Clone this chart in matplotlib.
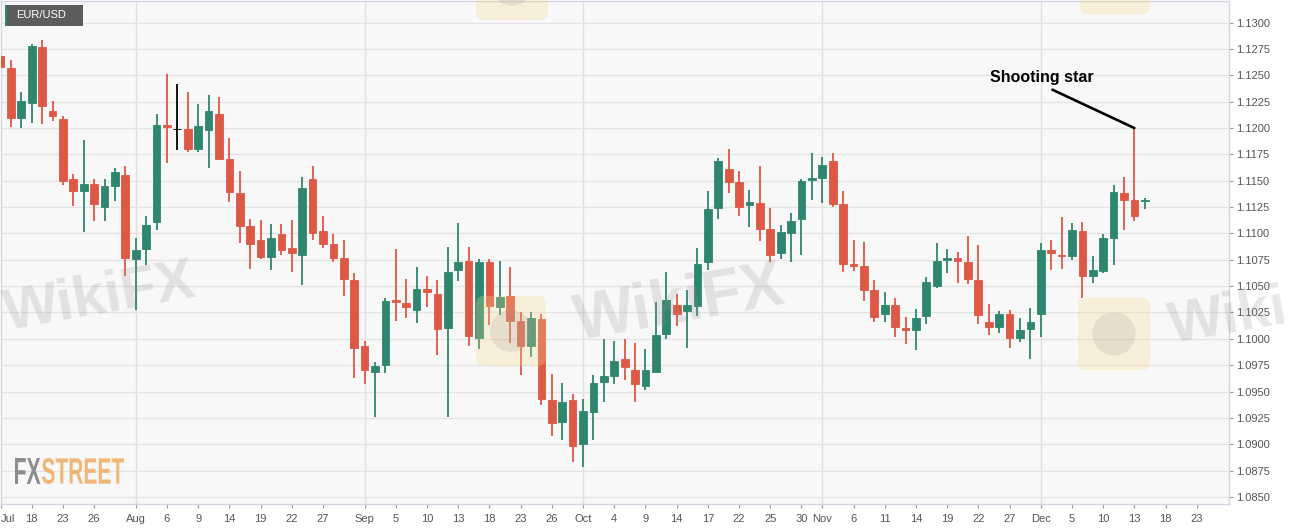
import matplotlib
matplotlib.use("Agg")
import matplotlib.pyplot as plt
import numpy as np
import pandas as pd
from matplotlib.patches import Rectangle, FancyBboxPatch, PathPatch, Circle
from matplotlib.textpath import TextPath
from matplotlib.font_manager import FontProperties
from matplotlib.transforms import Affine2D

# ---------------- data (EUR/USD daily, 2019) ----------------
start_date = "2019-07-15"
end_date = "2019-12-16"

opens = [1.1268, 1.1257, 1.1210, 1.1224, 1.1277, 1.1216, 1.1209, 1.1152, 1.1140, 1.1147,
         1.1125, 1.1145, 1.1155, 1.1076, 1.1085, 1.1111, 1.1203, 1.1199, 1.1199, 1.1180,
         1.1198, 1.1213, 1.1171, 1.1138, 1.1107, 1.1094, 1.1078, 1.1099, 1.1086, 1.1080,
         1.1152, 1.1102, 1.1090, 1.1077, 1.1056, 1.0993, 1.0969, 1.0975, 1.1037, 1.1034,
         1.1027, 1.1047, 1.1043, 1.1010, 1.1065, 1.1074, 1.1001, 1.1073, 1.1030, 1.1041,
         1.1017, 1.0993, 1.1019, 1.0942, 1.0921, 1.0942, 1.0900, 1.0931, 1.0959, 1.0965,
         1.0981, 1.0970, 1.0955, 1.0969, 1.1005, 1.1032, 1.1026, 1.1031, 1.1073, 1.1124,
         1.1161, 1.1149, 1.1127, 1.1129, 1.1104, 1.1081, 1.1100, 1.1114, 1.1151, 1.1153,
         1.1169, 1.1128, 1.1071, 1.1069, 1.1046, 1.1024, 1.1032, 1.1010, 1.1008, 1.1022,
         1.1050, 1.1075, 1.1077, 1.1073, 1.1056, 1.1016, 1.1011, 1.1024, 1.1001, 1.1009,
         1.1024, 1.1084, 1.1080, 1.1079, 1.1102, 1.1060, 1.1064, 1.1096, 1.1138, 1.1132,
         1.1131]
highs = [1.1284, 1.1265, 1.1234, 1.1280, 1.1284, 1.1226, 1.1211, 1.1156, 1.1189, 1.1152,
         1.1152, 1.1162, 1.1164, 1.1096, 1.1117, 1.1213, 1.1251, 1.1242, 1.1234, 1.1223,
         1.1231, 1.1229, 1.1191, 1.1159, 1.1114, 1.1113, 1.1109, 1.1109, 1.1113, 1.1154,
         1.1164, 1.1117, 1.1099, 1.1094, 1.1062, 1.0998, 1.0978, 1.1039, 1.1085, 1.1057,
         1.1068, 1.1060, 1.1056, 1.1087, 1.1110, 1.1087, 1.1076, 1.1076, 1.1074, 1.1068,
         1.1025, 1.1025, 1.1024, 1.0967, 1.0958, 1.0948, 1.0943, 1.0966, 1.1000, 1.0998,
         1.1000, 1.0996, 1.0990, 1.1035, 1.1063, 1.1043, 1.1046, 1.1086, 1.1140, 1.1172,
         1.1180, 1.1159, 1.1141, 1.1164, 1.1124, 1.1108, 1.1119, 1.1152, 1.1176, 1.1173,
         1.1176, 1.1140, 1.1094, 1.1092, 1.1056, 1.1044, 1.1039, 1.1021, 1.1028, 1.1059,
         1.1091, 1.1085, 1.1082, 1.1098, 1.1089, 1.1033, 1.1026, 1.1027, 1.1020, 1.1029,
         1.1091, 1.1094, 1.1116, 1.1110, 1.1111, 1.1079, 1.1099, 1.1146, 1.1154, 1.1200,
         1.1134]
lows = [1.1255, 1.1201, 1.1200, 1.1205, 1.1204, 1.1207, 1.1146, 1.1126, 1.1101, 1.1112,
        1.1112, 1.1131, 1.1060, 1.1027, 1.1070, 1.1103, 1.1167, 1.1179, 1.1177, 1.1177,
        1.1162, 1.1170, 1.1130, 1.1091, 1.1066, 1.1076, 1.1065, 1.1080, 1.1063, 1.1051,
        1.1094, 1.1086, 1.1073, 1.1041, 1.0963, 1.0957, 1.0926, 1.0968, 1.1017, 1.1020,
        1.1015, 1.1030, 1.0985, 1.0926, 1.1055, 1.0993, 1.0990, 1.1013, 1.1023, 1.0996,
        1.0966, 1.0983, 1.0937, 1.0908, 1.0904, 1.0883, 1.0878, 1.0904, 1.0940, 1.0957,
        1.0961, 1.0940, 1.0951, 1.0969, 1.1000, 1.1012, 1.0991, 1.1022, 1.1065, 1.1114,
        1.1138, 1.1117, 1.1106, 1.1093, 1.1073, 1.1076, 1.1073, 1.1080, 1.1132, 1.1129,
        1.1125, 1.1063, 1.1064, 1.1036, 1.1016, 1.1016, 1.1002, 1.0995, 1.0989, 1.1014,
        1.1048, 1.1062, 1.1053, 1.1052, 1.1014, 1.1004, 1.1006, 1.0991, 1.0997, 1.0981,
        1.1002, 1.1065, 1.1066, 1.1075, 1.1039, 1.1053, 1.1062, 1.1070, 1.1103, 1.1112,
        1.1123]
closes = [1.1258, 1.1210, 1.1226, 1.1278, 1.1221, 1.1211, 1.1150, 1.1140, 1.1147, 1.1128,
          1.1145, 1.1158, 1.1077, 1.1084, 1.1108, 1.1203, 1.1201, 1.1199, 1.1180, 1.1202,
          1.1216, 1.1171, 1.1139, 1.1107, 1.1090, 1.1078, 1.1096, 1.1084, 1.1081, 1.1143,
          1.1100, 1.1090, 1.1077, 1.1057, 1.0991, 1.0970, 1.0974, 1.1036, 1.1035, 1.1030,
          1.1047, 1.1044, 1.1009, 1.1063, 1.1073, 1.1003, 1.1073, 1.1031, 1.1040, 1.1017,
          1.0993, 1.1020, 1.0943, 1.0920, 1.0940, 1.0898, 1.0932, 1.0958, 1.0965, 1.0979,
          1.0973, 1.0957, 1.0970, 1.1004, 1.1037, 1.1024, 1.1032, 1.1071, 1.1123, 1.1169,
          1.1149, 1.1125, 1.1130, 1.1104, 1.1080, 1.1101, 1.1112, 1.1150, 1.1153, 1.1165,
          1.1128, 1.1071, 1.1069, 1.1046, 1.1021, 1.1032, 1.1011, 1.1008, 1.1020, 1.1054,
          1.1074, 1.1077, 1.1074, 1.1057, 1.1023, 1.1011, 1.1024, 1.1001, 1.1008, 1.1016,
          1.1084, 1.1081, 1.1079, 1.1103, 1.1060, 1.1065, 1.1096, 1.1139, 1.1132, 1.1117,
          1.1132]

tick_dates = ["2019-07-15", "2019-07-18", "2019-07-23", "2019-07-26", "2019-08-01", "2019-08-06",
              "2019-08-09", "2019-08-14", "2019-08-19", "2019-08-22", "2019-08-27", "2019-09-02",
              "2019-09-05", "2019-09-10", "2019-09-13", "2019-09-18", "2019-09-23", "2019-09-26",
              "2019-10-01", "2019-10-04", "2019-10-09", "2019-10-14", "2019-10-17", "2019-10-22",
              "2019-10-25", "2019-10-30", "2019-11-01", "2019-11-06", "2019-11-11", "2019-11-14",
              "2019-11-19", "2019-11-22", "2019-11-27", "2019-12-02", "2019-12-05", "2019-12-10",
              "2019-12-13", "2019-12-18", "2019-12-23"]
tick_labels = ["Jul", "18", "23", "26", "Aug", "6", "9", "14", "19", "22", "27", "Sep",
               "5", "10", "13", "18", "23", "26", "Oct", "4", "9", "14", "17", "22",
               "25", "30", "Nov", "6", "11", "14", "19", "22", "27", "Dec", "5", "10",
               "13", "18", "23"]
month_starts = ["2019-08-01", "2019-09-02", "2019-10-01", "2019-11-01", "2019-12-02"]
price_ticks = np.round(np.arange(1.0850, 1.13001, 0.0025), 4)

annot_text = "Shooting star"
annot_date = "2019-12-13"

# ---------------- styling ----------------
GREEN = "#2f866f"
RED = "#de5846"
W, H = 1299, 530

calendar = pd.bdate_range("2019-07-15", "2019-12-31")
dates = pd.bdate_range(start_date, end_date)
xs = np.array([calendar.get_loc(d) for d in dates])
o = np.array(opens); h = np.array(highs); l = np.array(lows); c = np.array(closes)

colors = np.where(c > o, GREEN, np.where(c < o, RED, "#000000"))

fig = plt.figure(figsize=(W / 100, H / 100), dpi=100)
fig.patch.set_facecolor("white")
ax = fig.add_axes([0.5 / W, (H - 504) / H, 1228.5 / W, 503 / H])
ax.set_facecolor("#f8f8f8")

# grid
ax.set_yticks(price_ticks)
ax.grid(axis="y", color="#e4e4e4", lw=1.0, zorder=0)
for m in month_starts:
    ax.axvline(calendar.get_loc(pd.Timestamp(m)), color="#e0e0e0", lw=1.0, zorder=0)

# candles
ax.vlines(xs, l, h, colors=colors, lw=1.3, zorder=2)
body_bottom = np.minimum(o, c)
body_h = np.maximum(np.abs(c - o), 0.00005)
ax.bar(xs, body_h, bottom=body_bottom, width=0.74, color=colors, edgecolor=colors,
       linewidth=0.6, zorder=3)

ax.set_xlim(0.0038, 118.096)
ax.set_ylim(1.08433, 1.132054)

# axes / ticks
ax.yaxis.tick_right()
ax.set_yticklabels([f"{v:.4f}" for v in price_ticks])
tick_pos = [calendar.get_loc(pd.Timestamp(d)) for d in tick_dates]
ax.set_xticks(tick_pos)
ax.set_xticklabels(tick_labels)
ax.get_xticklabels()[0].set_horizontalalignment("left")
ax.tick_params(axis="y", which="both", length=3, width=0.8, color="#9a9a9a",
               labelsize=8, labelcolor="#555555", pad=2)
ax.tick_params(axis="x", which="both", length=3, width=0.8, color="#9a9a9a",
               labelsize=8, labelcolor="#555555", pad=4)
for lab in ax.get_xticklabels() + ax.get_yticklabels():
    lab.set_family("Liberation Sans")
for sp in ax.spines.values():
    sp.set_color("#d6d6e2")
    sp.set_linewidth(1.0)

# annotation
ti = calendar.get_loc(pd.Timestamp(annot_date))
tip = (ti, h[list(dates).index(pd.Timestamp(annot_date))])
ax.annotate("", xy=tip, xytext=(-59, 27.6), textcoords="offset points",
            arrowprops=dict(arrowstyle="-", color="black", lw=1.9, shrinkA=0, shrinkB=0),
            zorder=6)
ax.annotate(annot_text, xy=tip, xytext=(-67, 36.5), textcoords="offset points",
            ha="center", va="center", fontsize=11.5, fontweight="bold",
            family="Liberation Sans", color="black", zorder=6)

# ---------------- watermarks / branding ----------------
px = Affine2D().scale(1 / W, 1 / H) + fig.transFigure

# yellow logo squares (faint)
for (x0, ytop, s) in [(476, 296, 70), (1078, 298, 72), (476, -52, 72), (1080, -56, 70)]:
    sq = FancyBboxPatch((x0, H - ytop - s), s, s, boxstyle="round,pad=0,rounding_size=8",
                        transform=px, facecolor="#f6d98e", edgecolor="none", alpha=0.28,
                        zorder=10)
    fig.add_artist(sq)
    circ = Circle((x0 + s / 2, H - ytop - s / 2), s * 0.3, transform=px,
                  facecolor="#9a9090", edgecolor="none", alpha=0.18, zorder=10)
    fig.add_artist(circ)

for (cx, cy, txt, fs) in [(100, 298, "WikiFX", 42), (680, 305, "WikiFX", 46),
                          (1228, 318, "Wiki", 42)]:
    fig.text(cx / W, 1 - cy / H, txt, fontsize=fs, fontweight="bold",
             family="Liberation Sans", color="#9a8e8e", alpha=0.22, rotation=10,
             ha="center", va="center", zorder=10)

# FXSTREET logo
fp = FontProperties(family="Liberation Sans", weight="bold")
for txt, x0, x1, col in [("FX", 15, 40.5, "#8d8d8d"), ("STREET", 42, 124, "#f1b676")]:
    tp = TextPath((0, 0), txt, size=100, prop=fp)
    bb = tp.get_extents()
    tr = (Affine2D().translate(-bb.x0, -bb.y0)
          .scale((x1 - x0) / bb.width, 26 / bb.height)
          .translate(x0, H - 484))
    fig.add_artist(PathPatch(tp, transform=tr + px, facecolor=col, edgecolor="none",
                             zorder=11))

# EUR/USD label
fig.add_artist(Rectangle((5, H - 26), 78, 21, transform=px, facecolor="#5c5c5c",
                         edgecolor="none", zorder=12))
fig.add_artist(Rectangle((5, H - 26), 2.5, 21, transform=px, facecolor=GREEN,
                         edgecolor="none", zorder=13))
fig.text(16 / W, 1 - 15.5 / H, "EUR/USD", color="white", fontsize=8,
         family="Liberation Sans", ha="left", va="center", zorder=14)

fig.savefig("out.png", dpi=100, facecolor="white")
